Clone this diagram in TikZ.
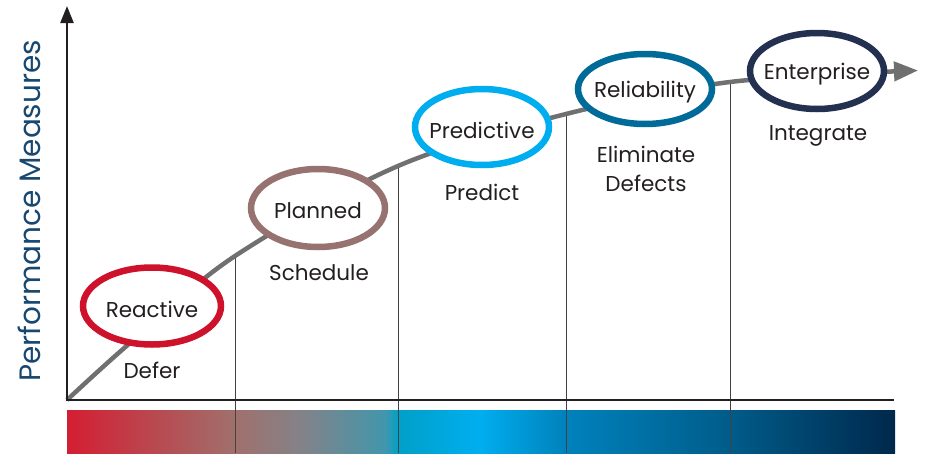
\documentclass[tikz,border=0pt]{standalone}
\usepackage{fontspec}
\setmainfont{Poppins}
\usetikzlibrary{arrows.meta,shapes.geometric}
\definecolor{txt}{RGB}{35,31,32}
\definecolor{curvec}{RGB}{112,112,112}
\definecolor{axisc}{RGB}{35,31,32}
\definecolor{ylab}{RGB}{24,72,112}
\definecolor{cReactive}{RGB}{206,18,44}
\definecolor{cPlanned}{RGB}{150,115,112}
\definecolor{cPredictive}{RGB}{0,174,239}
\definecolor{cReliability}{RGB}{0,106,152}
\definecolor{cEnterprise}{RGB}{35,48,80}
\definecolor{g0}{RGB}{212,30,50}
\definecolor{g1}{RGB}{160,112,108}
\definecolor{g2}{RGB}{132,130,136}
\definecolor{g3}{RGB}{66,150,172}
\definecolor{g4}{RGB}{0,160,200}
\definecolor{g5}{RGB}{0,174,239}
\definecolor{g6}{RGB}{0,130,188}
\definecolor{g7}{RGB}{0,92,138}
\definecolor{g8}{RGB}{0,40,76}
\pgfdeclarehorizontalshading{maturitybar}{100bp}{
 color(0bp)=(g0); color(25bp)=(g0);
 color(35.14bp)=(g1);
 color(39.07bp)=(g2);
 color(44.2bp)=(g3);
 color(45.0bp)=(g4);
 color(49.9bp)=(g5);
 color(55.1bp)=(g6);
 color(65.0bp)=(g7);
 color(75bp)=(g8); color(100bp)=(g8)}
\newcommand{\inring}[1]{\raisebox{-3pt}[\height][\depth]{\makebox[0pt]{#1}}}
\tikzset{
  stage/.style={ellipse, draw, line width=6.5pt, fill=white, inner sep=0pt,
    minimum width=134pt, minimum height=76pt,
    font=\fontsize{21.5}{24}\selectfont, text=txt},
  sublabel/.style={font=\fontsize{21.5}{29}\selectfont, text=txt, align=center, inner sep=0pt},
  divider/.style={draw=txt!85, line width=0.9pt},
  axisline/.style={draw=axisc, line width=2.4pt}
}
\begin{document}
\begin{tikzpicture}[x=1pt,y=-1pt]
\useasboundingbox (0,0) rectangle (928,455);
% gradient bar
\shade[shading=maturitybar] (67,410) rectangle (895,453);
\coordinate (barbot) at (0,453);
% curve points
\coordinate (o) at (67,400);
\coordinate (p0) at (130,343);
\coordinate (c1) at (235,256);
\coordinate (c2) at (398,166);
\coordinate (c3) at (566,114);
\coordinate (c4) at (730,82);
\coordinate (pend) at (918,70.5);
% dividers
\foreach \c in {c1,c2,c3,c4} \draw[divider] (\c) -- (\c |- barbot);
% curve
\draw[curvec, line width=4.5pt, -{Triangle[length=24pt,width=19pt]}]
  plot[smooth, tension=0.55] coordinates {(o) (p0) (c1) (c2) (c3) (c4) (pend)};
% axes
\coordinate (ytop) at (67,6);
\coordinate (xend) at (894,400);
\draw[axisline, -{Triangle[length=17pt,width=13pt]}] (67,401.2) -- (ytop);
\draw[axisline] (65.8,400) -- (xend);
% y label
\node[rotate=90, text=ylab, font=\fontsize{29.5}{32}\selectfont] (ylabel) at (29,211) {Performance Measures};
% stages
\node[stage, draw=cReactive, minimum width=138pt, minimum height=77pt] (reactive) at (152,306) {\inring{Reactive}};
\node[stage, draw=cPlanned, minimum height=78pt] (planned) at (318,208) {\inring{Planned}};
\node[stage, draw=cPredictive] (predictive) at (482,127) {\inring{Predictive}};
\node[stage, draw=cReliability, minimum height=70pt] (reliability) at (645,89) {\inring{Reliability}};
\node[stage, draw=cEnterprise, minimum height=76pt] (enterprise) at (817,71) {\inring{Enterprise}};
% sublabels
\node[sublabel] (defer) at (152,370) {Defer};
\node[sublabel] (schedule) at (319,273) {Schedule};
\node[sublabel] (predict) at (482,192) {Predict};
\node[sublabel] (elim) at (646,168.5) {Eliminate\\Defects};
\node[sublabel] (integrate) at (818,136) {Integrate};
\end{tikzpicture}
\end{document}
